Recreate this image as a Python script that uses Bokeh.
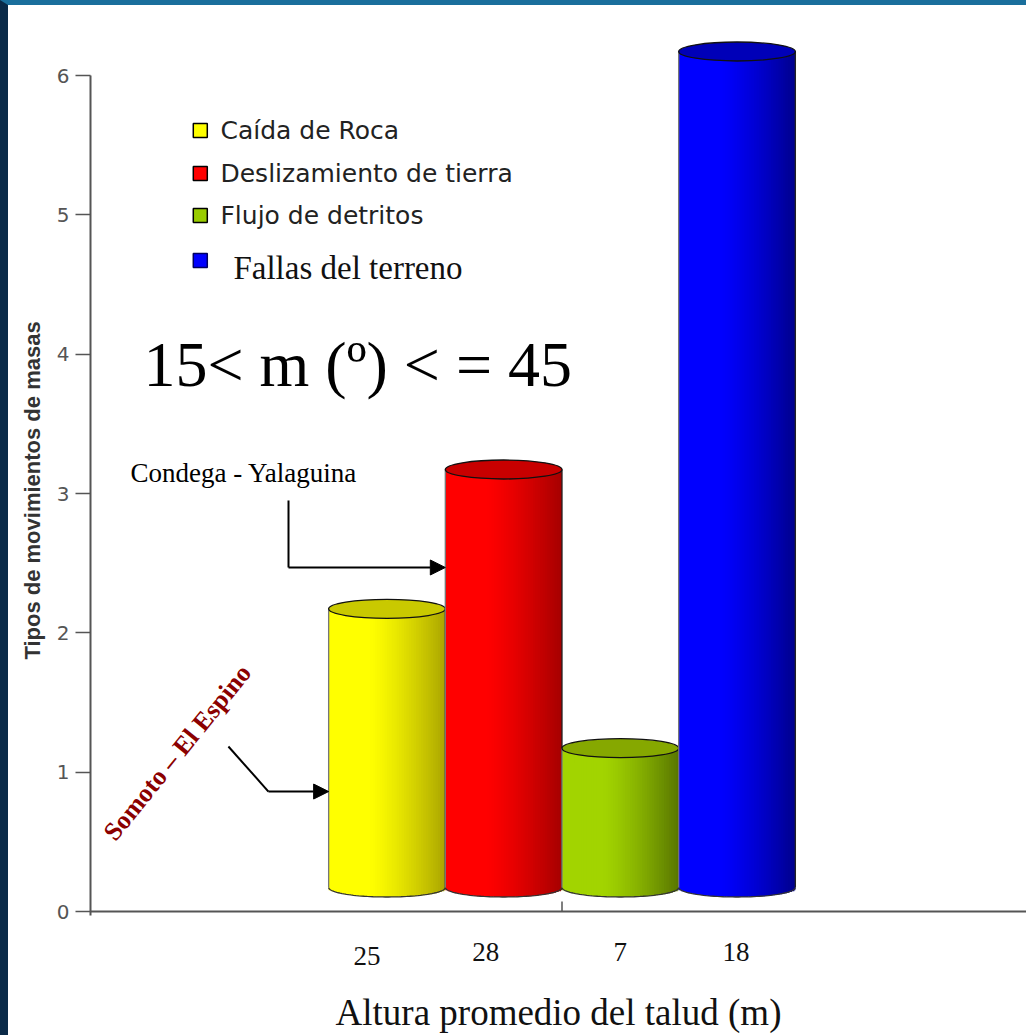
import numpy as np
from bokeh.plotting import figure
from bokeh.models import Range1d, FixedTicker, Arrow, NormalHead
from bokeh.core.properties import value
from bokeh.embed import file_html
from bokeh.resources import INLINE

# ---------------- data ----------------
categories = ["Caída de Roca", "Deslizamiento de tierra", "Flujo de detritos", "Fallas del terreno"]
heights_m = ["25", "28", "7", "18"]          # Altura promedio del talud (m)
counts = [2, 3, 1, 6]                          # Tipos de movimientos de masas
y_ticks = [0, 1, 2, 3, 4, 5, 6]
positions = [1, 2, 3, 4]

# ---------------- styles ----------------
light = [(255, 255, 0), (255, 0, 0), (162, 212, 0), (0, 0, 255)]
dark = [(170, 165, 0), (165, 0, 0), (88, 118, 0), (0, 0, 140)]
tops = ["#c9c900", "#c80000", "#86a800", "#0000b8"]
legend_fill = ["#ffff00", "#ff0000", "#99cc00", "#0000ff"]
legend_line = ["#000000", "#000000", "#000000", "#000060"]

W, H = 1026, 1035
X0, X1 = -1.541, 6.481
Y0, Y1 = -0.4593, 6.5025
FRAME_H = 970
PXY = FRAME_H / (Y1 - Y0)          # pixels per y unit
DEPTH = 24 / PXY                    # 3D depth shift of the cylinders
HH = 9.5 / PXY                      # half height of the ellipse caps
BAR_W = 1.0

p = figure(width=W, height=H, output_backend="svg", toolbar_location=None,
           x_range=Range1d(X0, X1), y_range=Range1d(Y0, Y1),
           min_border_left=82, min_border_right=8, min_border_top=0, min_border_bottom=65)
p.styles = {"border-left": "8px solid #0a2a48", "border-top": "5px solid #1a6f9c"}
p.outline_line_color = None
p.background_fill_color = "white"
p.border_fill_color = "white"
p.xgrid.visible = False
p.ygrid.visible = False

# y axis
ya = p.yaxis[0]
ya.ticker = FixedTicker(ticks=y_ticks, minor_ticks=[])
ya.bounds = (-0.03, 6)
ya.axis_line_color = "#555555"
ya.axis_line_width = 2
ya.major_tick_line_color = "#555555"
ya.major_tick_line_width = 1.5
ya.major_tick_out = 15
ya.major_tick_in = 0
ya.minor_tick_line_color = None
ya.major_label_standoff = 6
ya.major_label_text_font = "DejaVu Sans"
ya.major_label_text_font_size = "20px"
ya.major_label_text_color = "#555555"
ya.axis_label = "Tipos de movimientos de masas"
ya.axis_label_text_font = "Liberation Sans"
ya.axis_label_text_font_style = "bold"
ya.axis_label_text_font_size = "22px"
ya.axis_label_text_color = "#333333"
ya.axis_label_standoff = 9

# x axis (title only)
xa = p.xaxis[0]
xa.ticker = FixedTicker(ticks=[], minor_ticks=[])
xa.axis_line_color = None
xa.major_tick_line_color = None
xa.minor_tick_line_color = None
xa.major_label_text_font_size = "0px"
xa.axis_label = "Altura promedio del talud (m)"
xa.axis_label_text_font = "Liberation Serif"
xa.axis_label_text_font_style = "normal"
xa.axis_label_text_font_size = "37px"
xa.axis_label_text_color = "#111111"
xa.axis_label_standoff = 16

# x axis line and inner tick
p.segment(x0=[X0], y0=[0], x1=[X1], y1=[0], line_color="#555555", line_width=2)
p.segment(x0=[2.5], y0=[0], x1=[2.5], y1=[10 / PXY], line_color="#555555", line_width=1.5)


def mix(c1, c2, w):
    r = [int(round(a + (b - a) * w)) for a, b in zip(c1, c2)]
    return "#%02x%02x%02x" % tuple(r)


# cylinders
N = 48
for i, (xc, v) in enumerate(zip(positions, counts)):
    lefts, rights, bottoms, topsy, cols = [], [], [], [], []
    for k in range(N):
        u0 = -1 + 2 * k / N
        u1 = u0 + 2 / N
        uc = (u0 + u1) / 2
        t = (uc + 1) / 2
        if t < 0.35:
            w = 0.0
        else:
            w = ((t - 0.35) / 0.65) ** 1.3
        lefts.append(xc + u0 * BAR_W / 2)
        rights.append(xc + u1 * BAR_W / 2 + (0.012 if k < N - 1 else 0.0))
        umin = min(abs(u0), abs(u1))
        bottoms.append(DEPTH - HH * np.sqrt(max(0.0, 1 - umin ** 2)))
        topsy.append(v + DEPTH)
        cols.append(mix(light[i], dark[i], w))
    p.quad(left=lefts, right=rights, bottom=bottoms, top=topsy,
           fill_color=cols, line_color=None)
    th = np.linspace(0, np.pi, 60)
    p.line(x=list(xc + BAR_W / 2 * np.cos(th)), y=list(DEPTH - HH * np.sin(th)),
           line_color="#333333", line_width=1.3)
    p.segment(x0=[xc - BAR_W / 2, xc + BAR_W / 2], y0=[DEPTH, DEPTH],
              x1=[xc - BAR_W / 2, xc + BAR_W / 2], y1=[v + DEPTH, v + DEPTH],
              line_color=["#777777", "#222222"], line_width=1.3)
    p.ellipse(x=[xc], y=[v + DEPTH], width=BAR_W, height=19, height_units="screen",
              fill_color=tops[i], line_color="#111111", line_width=1.3)

# category labels under the axis
label_dx = [-20, -18, 0, -1]
label_dy = [4, 0, 0, 0]
p.text(x=positions, y=[-0.294] * 4, text=heights_m, x_offset=label_dx, y_offset=label_dy,
       text_font=value("Liberation Serif"), text_font_size="27px", text_color="#111111",
       text_align="center", text_baseline="alphabetic")

# legend
leg_y = [5.605, 5.297, 4.995, 4.672]
p.scatter(x=[-0.6] * 4, y=leg_y, marker="square", size=14,
          fill_color=legend_fill, line_color=legend_line, line_width=1.5)
p.text(x=[-0.427] * 3, y=leg_y[:3], text=categories[:3],
       text_font=value("DejaVu Sans"), text_font_size="25px", text_color="#222222",
       text_align="left", text_baseline="middle")
p.text(x=[-0.316], y=[4.622], text=[categories[3]],
       text_font=value("Liberation Serif"), text_font_size="33px", text_color="#111111",
       text_align="left", text_baseline="middle")

# annotations
p.text(x=[-1.087], y=[3.926], text=["15< m (º) < = 45"],
       text_font=value("Liberation Serif"), text_font_size="64px", text_color="#000000",
       text_align="left", text_baseline="alphabetic")
p.text(x=[-1.198], y=[3.144], text=["Condega - Yalaguina"],
       text_font=value("Liberation Serif"), text_font_size="27px", text_color="#000000",
       text_align="left", text_baseline="alphabetic")
p.text(x=[-0.796], y=[1.141], text=["Somoto – El Espino"], angle=[np.deg2rad(51)],
       text_font=value("Liberation Serif"), text_font_style="bold", text_font_size="26px",
       text_color="#8b0000", text_align="center", text_baseline="middle")

# arrows
p.line(x=[0.156, 0.156], y=[2.950, 2.469], line_color="black", line_width=2)
p.add_layout(Arrow(end=NormalHead(size=15, fill_color="black", line_color="black"),
                   x_start=0.156, y_start=2.469, x_end=1.5, y_end=2.469,
                   line_color="black", line_width=2))
p.line(x=[-0.359, -0.016], y=[1.184, 0.861], line_color="black", line_width=2)
p.add_layout(Arrow(end=NormalHead(size=15, fill_color="black", line_color="black"),
                   x_start=-0.016, y_start=0.861, x_end=0.5, y_end=0.861,
                   line_color="black", line_width=2))

open("out.html", "w").write(file_html(p, INLINE))
